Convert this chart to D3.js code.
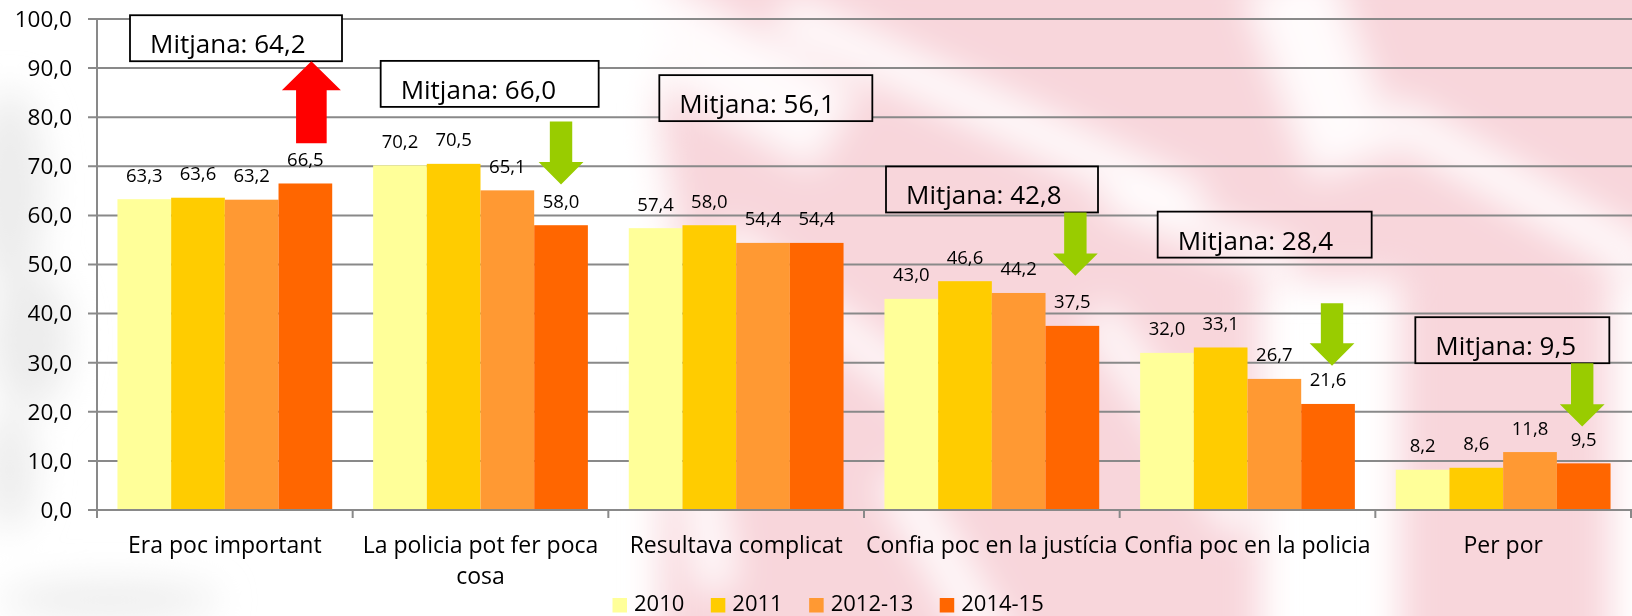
<!DOCTYPE html>
<html>
<head>
<meta charset="utf-8">
<script src="https://cdn.jsdelivr.net/npm/d3@7"></script>
<style>
  body { margin: 0; background: #fff; }
  svg { display: block; font-family: "Open Sans", sans-serif; }
</style>
</head>
<body>
<div id="chart"></div>
<script>
// dades
const categories = ["Era poc important", "La policia pot fer poca cosa", "Resultava complicat",
                    "Confia poc en la justícia", "Confia poc en la policia", "Per por"];
const series = ["2010", "2011", "2012-13", "2014-15"];
const v2010 = [63.3, 70.2, 57.4, 43.0, 32.0, 8.2];
const v2011 = [63.6, 70.5, 58.0, 46.6, 33.1, 8.6];
const v2012 = [63.2, 65.1, 54.4, 44.2, 26.7, 11.8];
const v2014 = [66.5, 58.0, 54.4, 37.5, 21.6, 9.5];
const mitjanes = [64.2, 66.0, 56.1, 42.8, 28.4, 9.5];
const tendencia = ["up", "down", null, "down", "down", "down"];
const yTicks = [0, 10, 20, 30, 40, 50, 60, 70, 80, 90, 100];

const colors = ["#FFFF99", "#FFCC00", "#FF9933", "#FF6600"];
const valors = [v2010, v2011, v2012, v2014];

// posicio de les caixes "Mitjana" i fletxes (en unitats de l'eix y)
const caixes = [
  {dx: 33, bottom: 91.4, w: 212, from: 74.7, to: 91.4, adx: 6, big: true},
  {dx: 28, bottom: 82.1, w: 218, from: 79.1, to: 66.3, adx: 0},
  {dx: 51, bottom: 79.2, w: 213},
  {dx: 22, bottom: 60.6, w: 212, from: 60.6, to: 47.7, adx: 3},
  {dx: 38, bottom: 51.4, w: 214, from: 42.1, to: 29.4, adx: 4},
  {dx: 40, bottom: 29.9, w: 194, from: 29.9, to: 17.0, adx: -1.5}
];

const width = 1632, height = 616;
const mLeft = 97, mRight = 1631, mTop = 19, mBottom = 510;

document.querySelector("#chart").innerHTML = "<svg></svg>";
const svg = d3.select("#chart svg").attr("width", width).attr("height", height);

const x0 = d3.scaleBand().domain(categories).range([mLeft, mRight])
  .paddingInner(0.16).paddingOuter(0.08);
const x1 = d3.scaleBand().domain(series).range([0, x0.bandwidth()]);
const y = d3.scaleLinear().domain([0, 100]).range([mBottom, mTop]);

// fons difuminat
const defs = svg.append("defs");
defs.append("filter").attr("id", "blur").attr("filterUnits", "userSpaceOnUse")
  .attr("x", -100).attr("y", -100).attr("width", width + 200).attr("height", height + 200)
  .append("feGaussianBlur").attr("stdDeviation", 18);

const fons = defs.append("g").attr("id", "fons");
fons.append("rect").attr("width", width).attr("height", height).attr("fill", "#fff");
const blobs = fons.append("g").attr("filter", "url(#blur)");
const pink = "#f8d6db";
[[660, -40, 600, 700], [1250, -40, 440, 320], [1400, 270, 210, 400]].forEach(r => {
  blobs.append("rect").attr("x", r[0]).attr("y", r[1]).attr("width", r[2]).attr("height", r[3])
    .attr("fill", pink);
});
[[990, 110, 460, 42, 25], [1320, 70, 200, 90, 70], [700, 470, 240, 40, 82],
 [950, 570, 220, 40, 60], [1520, 190, 300, 40, 30], [840, 330, 300, 34, 38],
 [1170, 420, 260, 34, 55], [740, 75, 220, 90, 30], [1200, 230, 200, 30, 20],
 [660, 250, 200, 40, 80]].forEach(s => {
  blobs.append("rect").attr("x", -s[2] / 2).attr("y", -s[3] / 2)
    .attr("width", s[2]).attr("height", s[3]).attr("fill", "#fff").attr("opacity", 0.9)
    .attr("transform", `translate(${s[0]},${s[1]}) rotate(${s[4]})`);
});
[[10, 190, 35, 100], [30, 340, 40, 70], [10, 470, 25, 60], [110, 600, 110, 18]].forEach(e => {
  blobs.append("ellipse").attr("cx", e[0]).attr("cy", e[1]).attr("rx", e[2]).attr("ry", e[3])
    .attr("fill", "#ececec");
});

svg.append("use").attr("href", "#fons");

// graella i eixos
const grid = "#898989";
svg.append("g").selectAll("line").data(yTicks).enter().append("line")
  .attr("x1", mLeft - 9).attr("x2", width)
  .attr("y1", d => y(d)).attr("y2", d => y(d))
  .attr("stroke", grid).attr("stroke-width", 2);

svg.append("line").attr("x1", mLeft).attr("x2", mLeft).attr("y1", mTop).attr("y2", mBottom)
  .attr("stroke", grid).attr("stroke-width", 2);

const bounds = categories.map(c => x0(c) - x0.step() * 0.08).concat([mRight]);
svg.append("g").selectAll("line").data(bounds).enter().append("line")
  .attr("x1", d => d).attr("x2", d => d).attr("y1", mBottom).attr("y2", mBottom + 8)
  .attr("stroke", grid).attr("stroke-width", 2);

svg.append("g").selectAll("text").data(yTicks).enter().append("text")
  .attr("x", 72).attr("y", d => y(d)).attr("dy", "0.35em")
  .attr("text-anchor", "end").attr("font-size", 22.5).attr("fill", "#000")
  .text(d => d3.format(".1f")(d).replace(".", ","));

// barres
let group = svg.append("g").selectAll("g")
  .data(categories).enter().append("g")
  .attr("transform", c => "translate(" + x0(c) + ",0)");

group.selectAll("rect")
  .data((c, i) => series.map((s, j) => ({s: s, v: valors[j][i], k: j})))
  .enter().append("rect")
  .attr("x", d => x1(d.s)).attr("width", x1.bandwidth())
  .attr("y", d => y(d.v)).attr("height", d => mBottom - y(d.v))
  .attr("fill", d => colors[d.k]);

svg.append("line").attr("x1", mLeft).attr("x2", width).attr("y1", mBottom).attr("y2", mBottom)
  .attr("stroke", grid).attr("stroke-width", 2);

group.selectAll("text.val")
  .data((c, i) => series.map((s, j) => ({s: s, v: valors[j][i]})))
  .enter().append("text").attr("class", "val")
  .attr("x", d => x1(d.s) + x1.bandwidth() / 2)
  .attr("y", d => y(d.v) - 17.5)
  .attr("text-anchor", "middle").attr("font-size", 18.5).attr("fill", "#000")
  .text(d => d3.format(".1f")(d.v).replace(".", ","));

// etiquetes de categoria
const catLabels = svg.append("g").selectAll("text").data(categories).enter().append("text")
  .attr("x", c => x0(c) + x0.bandwidth() / 2).attr("y", 553)
  .attr("text-anchor", "middle").attr("font-size", 23).attr("fill", "#000");

catLabels.each(function(c) {
  let t = d3.select(this), words = c.split(" "), line = [];
  let tspan = t.append("tspan").attr("x", t.attr("x")).attr("dy", 0);
  words.forEach(w => {
    line.push(w);
    tspan.text(line.join(" "));
    if (tspan.node().getComputedTextLength() > x0.step() + 8 && line.length > 1) {
      line.pop();
      tspan.text(line.join(" "));
      line = [w];
      tspan = t.append("tspan").attr("x", t.attr("x")).attr("dy", 31).text(w);
    }
  });
});

// caixes de mitjana
caixes.forEach((b, i) => {
  let bx = x0(categories[i]) - x0.step() * 0.08 + b.dx;
  let by = y(b.bottom) - 46;
  defs.append("clipPath").attr("id", "clip" + i)
    .append("rect").attr("x", bx).attr("y", by).attr("width", b.w).attr("height", 46);
  svg.append("use").attr("href", "#fons").attr("clip-path", "url(#clip" + i + ")");
  svg.append("rect").attr("x", bx).attr("y", by).attr("width", b.w).attr("height", 46)
    .attr("fill", "none").attr("stroke", "#000").attr("stroke-width", 1.8);
  svg.append("text").attr("x", bx + 20).attr("y", by + 38)
    .attr("font-size", 26).attr("fill", "#000")
    .text("Mitjana: " + d3.format(".1f")(mitjanes[i]).replace(".", ","));

  if (tendencia[i]) {
    let cx = x0(categories[i]) + x1("2014-15") + x1.bandwidth() / 2 + b.adx;
    let ya = y(b.from), yb = y(b.to);
    let dir = yb > ya ? 1 : -1;
    let s = b.big ? 15.3 : 11.2, h = b.big ? 29.5 : 22.4, L = b.big ? 29 : 22.4;
    let yh = yb - dir * L;
    let pts = [[cx - s, ya], [cx + s, ya], [cx + s, yh], [cx + h, yh], [cx, yb],
               [cx - h, yh], [cx - s, yh]];
    svg.append("path").attr("d", "M" + pts.join("L") + "Z")
      .attr("fill", tendencia[i] === "up" ? "#FF0000" : "#99CC00");
  }
});

// llegenda
const legend = svg.append("g");
let lx = 612.5;
series.forEach((s, j) => {
  legend.append("rect").attr("x", lx).attr("y", 598).attr("width", 14.5).attr("height", 14.5)
    .attr("fill", colors[j]);
  let t = legend.append("text").attr("x", lx + 21.5).attr("y", 611)
    .attr("font-size", 22).attr("fill", "#000").text(s);
  lx += 21.5 + t.node().getComputedTextLength() + 26.5;
});
</script>
</body>
</html>
